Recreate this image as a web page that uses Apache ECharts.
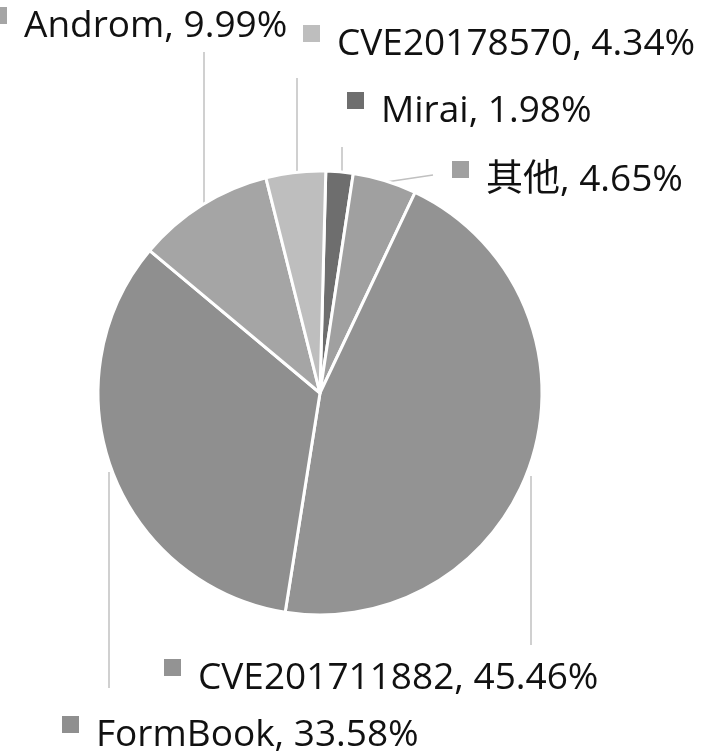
<!DOCTYPE html>
<html>
<head>
<meta charset="utf-8">
<script src="https://cdn.jsdelivr.net/npm/echarts@6/dist/echarts.min.js"></script>
<style>
  html, body { margin: 0; padding: 0; background: #fff; }
  #chart { width: 708px; height: 753px; }
</style>
</head>
<body>
<div id="chart"></div>
<script>
// 数据 (顺时针, 从顶部开始)
var names = ['Mirai', '其他', 'CVE201711882', 'FormBook', 'Androm', 'CVE20178570']
var shares = [1.98, 4.65, 45.46, 33.58, 9.99, 4.34]
var colors = ['#6e6e6e', '#a0a0a0', '#939393', '#8f8f8f', '#a5a5a5', '#bebebe']

// 标签位置: [方块左边x, 文字中线y] 和 引导线
var labelSpots = [
  [347, 111], [452, 180], [164, 678], [62, 735], [-10, 26], [303, 44]
]
var leaderLines = [
  [[342, 174], [342, 147]],
  [[386, 182], [433, 175]],
  [[531, 476], [531, 645]],
  [[109, 472], [109, 688]],
  [[204, 206], [204, 52]],
  [[297, 173], [297, 78]]
]

var myChart = echarts.init(document.getElementById('chart'))

var pieData = names.map(function (n, i) {
  return {
    name: n,
    value: shares[i],
    itemStyle: { color: colors[i] },
    label: {
      rich: {
        sq: { width: 17, height: 17, backgroundColor: colors[i], verticalAlign: 'top' },
        t: {
          fontSize: 37, lineHeight: 38, color: '#111',
          fontFamily: '"Open Sans", "Noto Sans CJK TC", sans-serif',
          padding: [0, 0, 0, 17]
        }
      }
    }
  }
})

var options = {
  animation: false,
  backgroundColor: '#fff',
  series: [
    {
      type: 'pie',
      center: [320, 393],
      radius: 222,
      startAngle: 88.5,
      clockwise: true,
      avoidLabelOverlap: false,
      itemStyle: { borderColor: '#fff', borderWidth: 3 },
      label: {
        show: true,
        position: 'outside',
        formatter: function (p) {
          return '{sq|}{t|' + p.name + ', ' + p.value.toFixed(2) + '%}'
        }
      },
      labelLine: {
        show: true,
        lineStyle: { color: '#c0c0c0', width: 1.5 }
      },
      labelLayout: function (p) {
        var i = p.dataIndex
        return {
          x: labelSpots[i][0],
          y: labelSpots[i][1],
          align: 'left',
          verticalAlign: 'middle',
          labelLinePoints: leaderLines[i]
        }
      },
      data: pieData
    }
  ]
}

myChart.setOption(options)
</script>
</body>
</html>
